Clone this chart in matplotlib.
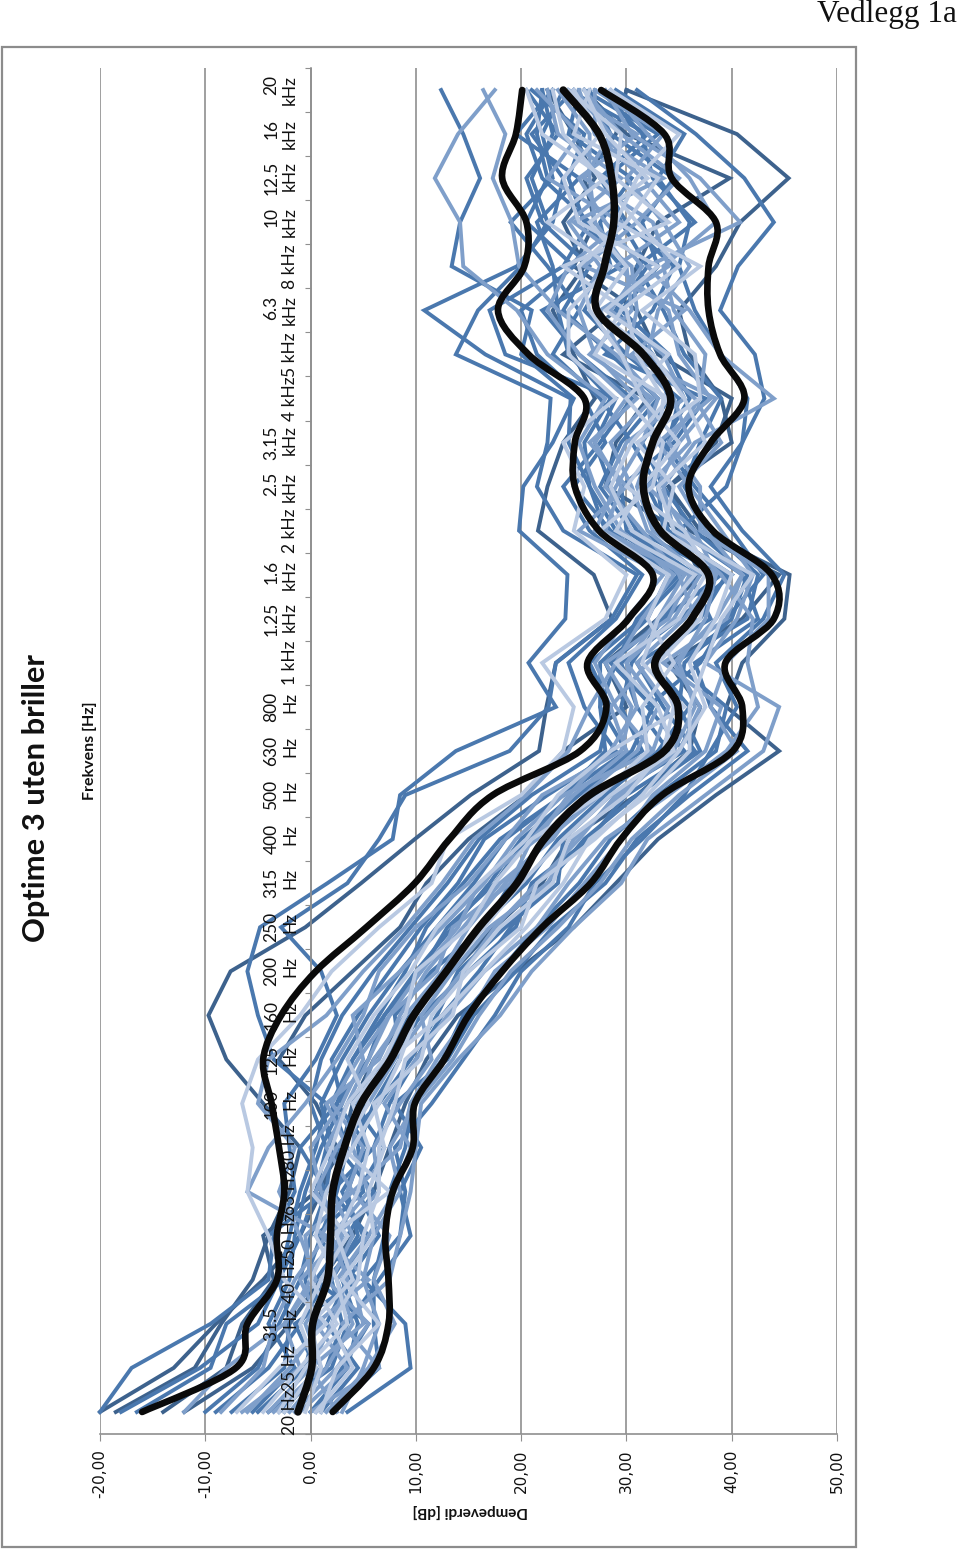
# Optime 3 uten briller - dempeverdi per frekvens (rotated excel chart)
import matplotlib
matplotlib.use('Agg')
import matplotlib.pyplot as plt
from matplotlib.patches import PathPatch, Rectangle
from matplotlib.path import Path

freq_labels = ['20 Hz', '25 Hz', '31.5\nHz', '40 Hz', '50 Hz', '63 Hz', '80 Hz', '100\nHz', '125\nHz', '160\nHz',
               '200\nHz', '250\nHz', '315\nHz', '400\nHz', '500\nHz', '630\nHz', '800\nHz', '1 kHz', '1.25\nkHz',
               '1.6\nkHz', '2 kHz', '2.5\nkHz', '3.15\nkHz', '4 kHz', '5 kHz', '6.3\nkHz', '8 kHz', '10\nkHz',
               '12.5\nkHz', '16\nkHz', '20\nkHz']
value_ticks = [-20, -10, 0, 10, 20, 30, 40, 50]
value_labels = ['-20,00', '-10,00', '0,00', '10,00', '20,00', '30,00', '40,00', '50,00']

# black smoothed lines
mean_low = [-16.0, -7.1, -6.0, -3.2, -3.2, -2.5, -3.0, -3.7, -4.5, -2.8, 0.5, 5.3, 9.9, 13.2, 17.3, 25.6, 28.1, 26.3,
            30.2, 32.5, 27.4, 25.1, 25.1, 26.0, 20.7, 17.8, 20.3, 20.5, 18.2, 19.5, 20.1]
mean_mid = [-1.2, 0.1, 0.2, 1.6, 1.9, 2.1, 3.2, 4.8, 7.6, 9.8, 12.9, 16.0, 19.6, 22.2, 26.5, 33.6, 34.9, 32.7,
            36.2, 37.8, 33.2, 31.6, 32.5, 34.2, 31.6, 27.2, 27.9, 28.8, 28.6, 27.4, 24.0]
mean_high = [2.1, 6.0, 7.4, 7.4, 7.1, 7.8, 9.7, 9.9, 12.7, 15.0, 18.2, 22.0, 26.6, 29.5, 33.4, 40.1, 41.0, 39.4,
             44.0, 43.8, 38.2, 35.9, 38.0, 41.2, 38.9, 37.8, 37.8, 38.5, 34.3, 33.6, 27.6]

# dark blue
d1 = [-18.5, -11.0, -8.5, -5.5, -4.0, -2.0, -1.0, -4.5, -8.0, -9.7, -7.6, -0.5, 4.8, 9.9, 15.2, 21.7, 22.4, 23.3,
      28.6, 26.9, 21.6, 22.5, 24.0, 27.0, 25.0, 23.0, 26.0, 24.0, 27.0, 25.0, 22.5]
d2 = [-20.0, -13.0, -9.0, -4.5, -1.0, 1.0, 2.5, 0.5, -3.0, -0.5, 4.0, 8.5, 11.0, 15.0, 20.5, 24.0, 30.0, 28.0,
      33.0, 37.0, 35.0, 28.0, 29.0, 32.0, 24.0, 29.0, 31.0, 33.0, 39.8, 30.0, 26.0]
d3 = [-14.0, -8.0, -6.5, -3.5, -4.5, 0.5, 3.0, 4.0, 6.0, 9.5, 13.5, 17.5, 22.0, 24.5, 31.0, 36.0, 37.0, 34.0,
      41.0, 44.5, 36.0, 34.0, 38.5, 40.0, 33.0, 31.0, 25.0, 27.0, 26.0, 29.0, 30.0]
u1 = [-12.0, -5.5, -2.0, 1.0, 4.0, 6.0, 7.5, 9.0, 11.0, 14.0, 19.5, 25.0, 29.0, 33.0, 38.5, 44.5, 39.5, 41.0,
      45.0, 45.5, 37.0, 34.0, 40.0, 39.0, 36.0, 35.0, 38.5, 40.8, 45.4, 40.5, 30.0]

# medium blue
m1 = [-18.0, -10.5, -5.0, -3.0, -2.0, -1.0, 0.5, 1.5, -3.5, -5.0, -6.0, -4.8, 1.6, 7.8, 8.5, 13.8, 23.3, 20.7,
      24.2, 24.4, 19.8, 20.2, 23.0, 25.0, 20.0, 21.0, 13.4, 14.2, 16.1, 14.5, 12.4]
m2 = [-20.0, -17.0, -9.5, -4.0, -3.5, -1.5, -2.0, -2.5, 0.5, 2.5, 1.0, -2.8, 3.5, 6.5, 9.0, 18.9, 22.6, 23.3,
      28.6, 31.0, 24.0, 21.5, 22.5, 22.8, 13.8, 15.9, 20.0, 22.5, 21.0, 23.0, 22.0]
m3 = [-16.5, -9.5, -8.0, -2.5, -4.0, 1.5, -1.0, 2.5, 4.0, 6.5, 9.0, 11.0, 14.5, 18.0, 24.0, 28.0, 27.5, 29.0,
      31.0, 35.0, 28.0, 26.5, 24.5, 24.7, 16.6, 10.8, 19.6, 23.0, 24.0, 21.0, 25.0]
m4 = [-9.0, -4.0, -1.0, 1.5, 5.0, 3.0, 5.5, 2.5, 5.5, 7.0, 10.0, 13.5, 17.0, 20.0, 25.0, 31.5, 29.5, 30.5,
      33.5, 39.0, 31.0, 28.5, 27.0, 29.0, 18.5, 17.0, 24.0, 26.5, 22.0, 20.5, 23.0]
m5 = [-4.0, 2.0, 3.5, 6.5, 9.5, 8.5, 10.5, 8.0, 13.0, 15.5, 19.5, 23.0, 28.0, 31.0, 36.0, 41.5, 38.0, 36.5,
      42.5, 41.0, 35.0, 39.5, 41.0, 43.1, 42.2, 38.9, 40.6, 44.0, 41.2, 36.6, 31.0]
m6 = [0.5, 3.0, 5.5, 0.5, 3.5, 6.0, 2.5, 6.5, 9.5, 12.0, 14.0, 18.5, 23.5, 24.0, 28.5, 35.5, 32.0, 37.0,
      39.5, 43.0, 40.0, 36.5, 33.5, 36.0, 34.0, 29.5, 33.0, 31.5, 34.5, 28.5, 26.5]
m7 = [3.5, 9.5, 9.0, 5.0, 8.5, 9.0, 8.0, 11.5, 14.5, 17.5, 20.0, 24.5, 27.0, 31.5, 35.5, 38.0, 40.5, 38.5,
      43.0, 45.0, 41.0, 38.0, 41.0, 41.5, 39.0, 36.5, 35.0, 36.0, 33.0, 35.5, 29.0]
m8 = [-5.5, -1.5, -4.0, -2.0, -1.5, -0.5, 1.0, 3.0, 2.0, 4.5, 7.5, 10.5, 14.0, 16.5, 22.5, 29.0, 26.0, 24.5,
      29.0, 31.5, 26.5, 24.0, 27.5, 30.5, 25.5, 22.0, 29.5, 26.0, 24.5, 26.0, 21.0]
m9 = [1.0, 4.5, 1.5, 3.5, 6.5, 4.5, 7.0, 4.0, 7.5, 10.5, 15.0, 19.5, 21.0, 26.5, 30.0, 36.5, 33.5, 31.0,
      38.0, 36.0, 30.0, 29.5, 34.5, 37.5, 28.0, 32.5, 34.5, 30.0, 27.5, 32.0, 24.5]
m10 = [-2.5, 0.5, -1.5, 4.5, 0.5, 5.0, 4.5, 6.0, 8.5, 8.0, 11.5, 16.5, 19.0, 22.5, 27.0, 34.0, 31.0, 29.5,
       35.0, 40.0, 33.5, 33.0, 30.5, 27.5, 23.0, 25.5, 22.5, 19.0, 23.0, 22.0, 24.0]
m11 = [-7.5, -2.5, -2.0, -3.0, -1.0, 0.5, 1.5, 0.0, 1.0, 3.0, 6.0, 9.5, 13.0, 16.0, 21.0, 27.5, 28.5, 26.5,
       31.5, 35.5, 29.0, 26.5, 26.0, 28.5, 24.5, 23.5, 23.0, 21.5, 25.5, 19.5, 23.0]
m12 = [-3.0, 1.5, 3.0, 2.0, 4.5, 3.5, 5.0, 5.0, 7.0, 9.5, 13.0, 16.0, 20.5, 23.5, 28.0, 33.0, 36.0, 32.5,
       37.0, 39.5, 34.0, 32.0, 34.0, 35.0, 30.0, 26.0, 28.5, 27.5, 30.5, 24.5, 25.5]
m13 = [2.0, 6.5, 6.0, 6.0, 7.0, 7.5, 9.0, 9.5, 12.5, 14.5, 18.0, 21.5, 25.5, 28.5, 33.0, 38.5, 39.5, 34.5,
       41.5, 42.5, 38.0, 35.5, 37.0, 39.0, 35.5, 33.5, 31.0, 36.5, 32.5, 31.5, 27.5]
m14 = [-5.0, -0.5, 0.5, -0.5, 1.0, 2.5, 3.5, 2.0, 4.0, 7.0, 10.5, 13.0, 17.5, 20.5, 25.5, 30.5, 32.5, 28.5,
       33.5, 36.5, 30.5, 27.5, 29.5, 33.0, 28.5, 24.0, 26.5, 22.0, 20.5, 23.5, 20.5]
m15 = [0.0, 3.5, 4.5, 3.0, 5.5, 2.0, 6.0, 7.5, 10.0, 12.5, 16.0, 19.0, 22.5, 26.0, 31.0, 37.0, 35.0, 35.5,
       40.0, 41.5, 36.5, 33.5, 31.5, 34.0, 32.5, 29.0, 32.0, 29.5, 28.0, 33.0, 26.0]
m16 = [-10.0, -5.0, -3.0, -1.0, 0.0, 1.5, 2.0, 1.0, 3.0, 5.5, 8.5, 12.0, 15.5, 18.5, 24.0, 30.0, 27.5, 27.5,
       32.0, 34.0, 28.5, 25.0, 28.0, 26.0, 21.5, 20.0, 25.0, 20.5, 22.5, 21.5, 22.0]

# light blue
l1 = [-12.0, -8.0, -2.5, 0.5, -1.0, -3.0, -1.5, -5.0, -4.0, 1.5, 5.0, 9.0, 12.5, 15.5, 20.5, 24.5, 26.5, 29.0,
      31.5, 34.5, 29.5, 27.0, 25.5, 28.0, 22.5, 19.6, 14.5, 14.2, 11.8, 14.0, 17.5]
l2 = [-8.5, -4.5, -3.5, -1.5, 1.5, -6.0, -4.0, -0.5, 2.5, 5.0, 6.5, 10.0, 15.0, 18.5, 22.0, 29.5, 30.5, 28.0,
      34.0, 36.0, 27.0, 29.0, 31.5, 33.0, 29.0, 23.5, 19.8, 19.1, 17.3, 18.5, 16.4]
l3 = [-2.0, 1.5, 4.0, 2.5, 5.5, 8.0, 9.5, 7.0, 10.0, 13.0, 16.5, 21.5, 24.5, 28.0, 34.0, 39.5, 42.5, 41.5,
      42.0, 39.0, 34.5, 33.5, 36.5, 44.0, 38.9, 36.0, 32.0, 40.8, 37.0, 30.5, 28.0]
l4 = [0.0, 6.5, 3.0, 7.5, 8.5, 9.5, 10.0, 10.5, 14.0, 18.0, 21.0, 25.0, 29.5, 32.0, 37.5, 43.0, 44.5, 37.5,
      40.5, 42.0, 39.0, 36.0, 33.0, 38.0, 35.0, 34.0, 29.0, 35.0, 31.5, 27.0, 25.5]
l5 = [-6.0, -2.0, 1.0, -1.0, 3.0, 1.0, 0.0, 3.0, 5.0, 4.0, 8.5, 12.5, 16.5, 19.5, 24.0, 32.5, 29.0, 27.0,
      30.0, 33.5, 25.5, 30.0, 26.5, 31.0, 27.0, 25.5, 27.5, 24.5, 29.5, 23.5, 22.5]
l6 = [2.5, 0.0, 5.0, 4.0, 2.5, 6.5, 6.0, 8.5, 11.5, 10.5, 13.5, 17.0, 22.5, 25.0, 29.5, 34.5, 36.5, 35.0,
      37.5, 38.5, 36.5, 32.0, 36.0, 34.5, 30.5, 35.5, 26.0, 31.0, 35.0, 29.5, 26.0]
l7 = [-3.5, 1.0, -0.5, 2.0, 4.0, 2.0, 3.5, 1.5, 6.5, 8.5, 11.0, 14.5, 18.0, 23.0, 26.0, 31.0, 33.0, 30.0,
      34.5, 37.0, 32.0, 30.5, 28.5, 32.5, 26.5, 30.5, 30.0, 27.0, 26.5, 26.5, 23.5]
l8 = [1.5, 5.5, 8.0, 6.0, 7.5, 4.0, 8.5, 9.5, 12.0, 15.0, 17.5, 22.5, 26.0, 29.5, 32.5, 37.5, 39.0, 33.5,
      39.5, 41.0, 37.5, 35.0, 39.0, 36.5, 32.0, 33.0, 36.0, 33.5, 30.0, 33.5, 27.0]
l9 = [-1.0, 3.5, 0.5, 5.5, 1.0, 3.5, 5.0, 2.0, 4.5, 7.5, 12.0, 13.5, 19.0, 21.0, 25.0, 30.0, 28.5, 32.0,
      36.5, 35.0, 31.5, 28.0, 30.0, 35.5, 33.5, 28.5, 31.5, 28.0, 25.5, 31.0, 24.0]
l10 = [-4.0, 0.0, 2.0, 3.5, 2.0, 5.5, 4.0, 4.5, 6.0, 9.0, 12.5, 15.0, 18.5, 22.5, 27.5, 32.5, 34.0, 31.0,
       35.5, 38.5, 32.5, 31.0, 32.5, 32.0, 29.5, 27.5, 34.0, 32.5, 26.0, 28.5, 25.0]
l11 = [-1.5, 2.5, 5.5, 1.5, 3.0, 0.5, 2.5, 5.5, 8.0, 11.0, 14.5, 17.5, 21.5, 25.5, 29.0, 35.0, 37.0, 34.5,
       38.5, 41.0, 35.5, 33.0, 35.0, 38.5, 30.0, 31.0, 30.5, 25.0, 33.5, 27.0, 27.0]
l12 = [-6.5, -1.0, -2.5, 0.0, -0.5, 4.0, 1.5, 3.5, 5.5, 7.5, 10.5, 14.0, 16.0, 21.5, 24.5, 28.5, 31.0, 30.0,
       33.0, 35.5, 28.0, 29.5, 27.0, 30.0, 25.5, 22.5, 24.5, 29.5, 22.5, 25.5, 21.5]
l13 = [3.0, 5.0, 6.5, 5.0, 6.0, 8.5, 7.5, 10.0, 13.5, 16.0, 19.0, 23.5, 27.5, 30.5, 35.0, 40.5, 38.0, 39.5,
       43.5, 43.5, 37.0, 37.0, 34.0, 37.0, 37.5, 34.5, 33.5, 38.5, 36.0, 32.0, 28.5]

# palest blue
p1 = [-7.0, -3.0, 1.5, -2.5, -4.0, -6.0, -5.5, -6.5, -5.0, -1.0, 2.0, 6.5, 11.5, 13.0, 20.0, 24.0, 25.0, 22.0,
      28.0, 30.0, 25.0, 26.0, 24.0, 29.0, 24.5, 24.5, 28.5, 22.5, 28.0, 22.0, 20.5]
p2 = [-4.5, -1.0, 2.5, 0.0, 2.0, 7.5, 3.0, 5.5, 3.5, 6.0, 9.5, 12.0, 16.0, 20.5, 23.5, 28.5, 35.5, 31.5,
      33.0, 36.5, 29.0, 31.5, 35.0, 31.5, 29.5, 26.5, 25.5, 30.0, 33.0, 25.0, 26.5]
p3 = [1.0, 2.5, 6.5, 3.0, 6.0, 5.5, 7.0, 6.0, 10.5, 11.5, 15.0, 20.0, 21.5, 27.0, 31.5, 35.0, 37.5, 36.0,
      38.5, 40.0, 33.5, 34.5, 31.0, 37.0, 36.5, 31.5, 37.0, 29.0, 31.0, 35.0, 28.5]
p4 = [-2.5, 0.5, -1.0, 1.0, 3.5, 0.0, 2.0, 3.5, 7.0, 9.0, 10.0, 15.0, 17.5, 21.0, 27.5, 32.0, 31.5, 34.5,
      32.0, 34.0, 27.5, 32.5, 33.5, 30.0, 34.0, 28.0, 33.0, 25.5, 24.0, 27.5, 25.0]
p5 = [0.5, 4.0, 2.0, 4.5, 5.0, 6.5, 6.5, 8.0, 9.0, 13.5, 14.5, 18.0, 23.0, 24.5, 30.0, 33.5, 34.5, 33.0,
      37.0, 38.0, 35.5, 30.0, 33.0, 33.5, 31.0, 30.0, 24.0, 34.0, 29.0, 29.5, 24.5]
p6 = [-3.0, -0.5, 3.5, 2.5, 0.5, 1.5, 4.0, 6.5, 8.5, 10.0, 13.0, 16.5, 20.0, 24.0, 28.5, 34.5, 33.0, 29.0,
      35.0, 37.5, 30.5, 28.5, 30.5, 34.0, 27.0, 29.5, 35.0, 31.0, 27.5, 24.0, 23.0]
p7 = [-0.5, 1.0, 0.0, 4.0, 2.5, 4.5, 5.5, 4.0, 7.5, 12.5, 16.5, 20.5, 24.0, 26.5, 32.0, 36.0, 36.0, 37.5,
      39.0, 42.0, 34.5, 33.0, 37.5, 35.5, 32.5, 27.0, 30.0, 26.5, 32.0, 28.0, 26.0]

# order as in the sheet, light ones end up on top
dark_lines = [d1, d2, d3, u1]
mid_lines = [m1, m2, m3, m4, m5, m6, m7, m8, m9, m10, m11, m12, m13, m14, m15, m16]
light_lines = [l1, l2, l3, l4, l5, l6, l7, l8, l9, l10, l11, l12, l13]
pale_lines = [p1, p2, p3, p4, p5, p6, p7]

W, H = 960, 1549
fig = plt.figure(figsize=(W / 100, H / 100), dpi=100)
ax = fig.add_axes([100 / W, 1 - 1434 / H, (837 - 100) / W, (1434 - 68) / H])

fig.add_artist(Rectangle((2 / W, 1 - 1547 / H), 854 / W, 1500 / H, transform=fig.transFigure,
                         fill=False, edgecolor='#8c8c8c', linewidth=1.6))

idx = list(range(len(freq_labels)))
for lines, col in [(dark_lines, '#3d628d'), (mid_lines, '#4a78ae'), (light_lines, '#7f9fca'),
                   (pale_lines, '#b9c9e2')]:
    for s in lines:
        ax.plot(s, idx, color=col, lw=2.8, solid_joinstyle='miter', clip_on=False)


def smooth_path(xs, ys):
    # same kind of curve excel uses for "smoothed line"
    verts = [(xs[0], ys[0])]
    codes = [Path.MOVETO]
    n = len(xs)
    for i in range(n - 1):
        a = max(i - 1, 0)
        b = min(i + 2, n - 1)
        verts.append((xs[i] + (xs[i + 1] - xs[a]) / 6, ys[i] + (ys[i + 1] - ys[a]) / 6))
        verts.append((xs[i + 1] - (xs[b] - xs[i]) / 6, ys[i + 1] - (ys[b] - ys[i]) / 6))
        verts.append((xs[i + 1], ys[i + 1]))
        codes += [Path.CURVE4, Path.CURVE4, Path.CURVE4]
    return Path(verts, codes)


for s, w in [(mean_low, 4.8), (mean_mid, 5.4), (mean_high, 4.8)]:
    ax.add_patch(PathPatch(smooth_path(s, idx), fill=False, edgecolor='#0a0a0a', lw=w, capstyle='round', zorder=5))

ax.set_xlim(-20, 50)
ax.set_ylim(-0.5, 30.5)
ax.set_axisbelow(True)
ax.yaxis.set_zorder(3)  # frequency labels stay readable over the blue lines
ax.xaxis.grid(True, color='#8f8f8f', lw=1.2)
ax.spines['top'].set_visible(False)
ax.spines['right'].set_visible(False)
ax.spines['left'].set_position(('data', 0))
ax.spines['left'].set_color('#8f8f8f')
ax.spines['bottom'].set_color('#8f8f8f')
ax.spines['left'].set_linewidth(1.2)
ax.spines['bottom'].set_linewidth(1.2)

ax.set_xticks(value_ticks)
ax.set_xticklabels(value_labels, rotation=90, family='DejaVu Sans', fontsize=11, color='#111111')
ax.tick_params(axis='x', length=5, color='#8f8f8f', pad=6)

ax.set_yticks([i - 0.5 for i in range(len(freq_labels) + 1)])
ax.set_yticklabels([])
ax.tick_params(axis='y', which='major', length=4, color='#8f8f8f')
ax.set_yticks(idx, minor=True)
ax.set_yticklabels(freq_labels, minor=True, rotation=90, va='center', ha='right', family='Lato', fontsize=12.5,
                   linespacing=1.2, color='#111111')
ax.tick_params(axis='y', which='minor', length=0, pad=9)

fig.text(36 / W, 1 - 798 / H, 'Optime 3 uten briller', rotation=90, ha='center', va='center',
         family='Lato', fontweight='bold', fontsize=22.2, color='#111111')
fig.text(90 / W, 1 - 751 / H, 'Frekvens [Hz]', rotation=90, ha='center', va='center',
         family='Lato', fontweight='bold', fontsize=11.5, color='#111111')
fig.text(470 / W, 1 - 1511 / H, 'Dempeverdi [dB]', rotation=180, ha='center', va='center',
         family='Lato', fontweight='bold', fontsize=11, color='#111111')
fig.text(957 / W, 1 - 14 / H, 'Vedlegg 1a', ha='right', va='center',
         family='Liberation Serif', fontsize=22.5, color='#111111')

fig.savefig('out.png', dpi=100)
